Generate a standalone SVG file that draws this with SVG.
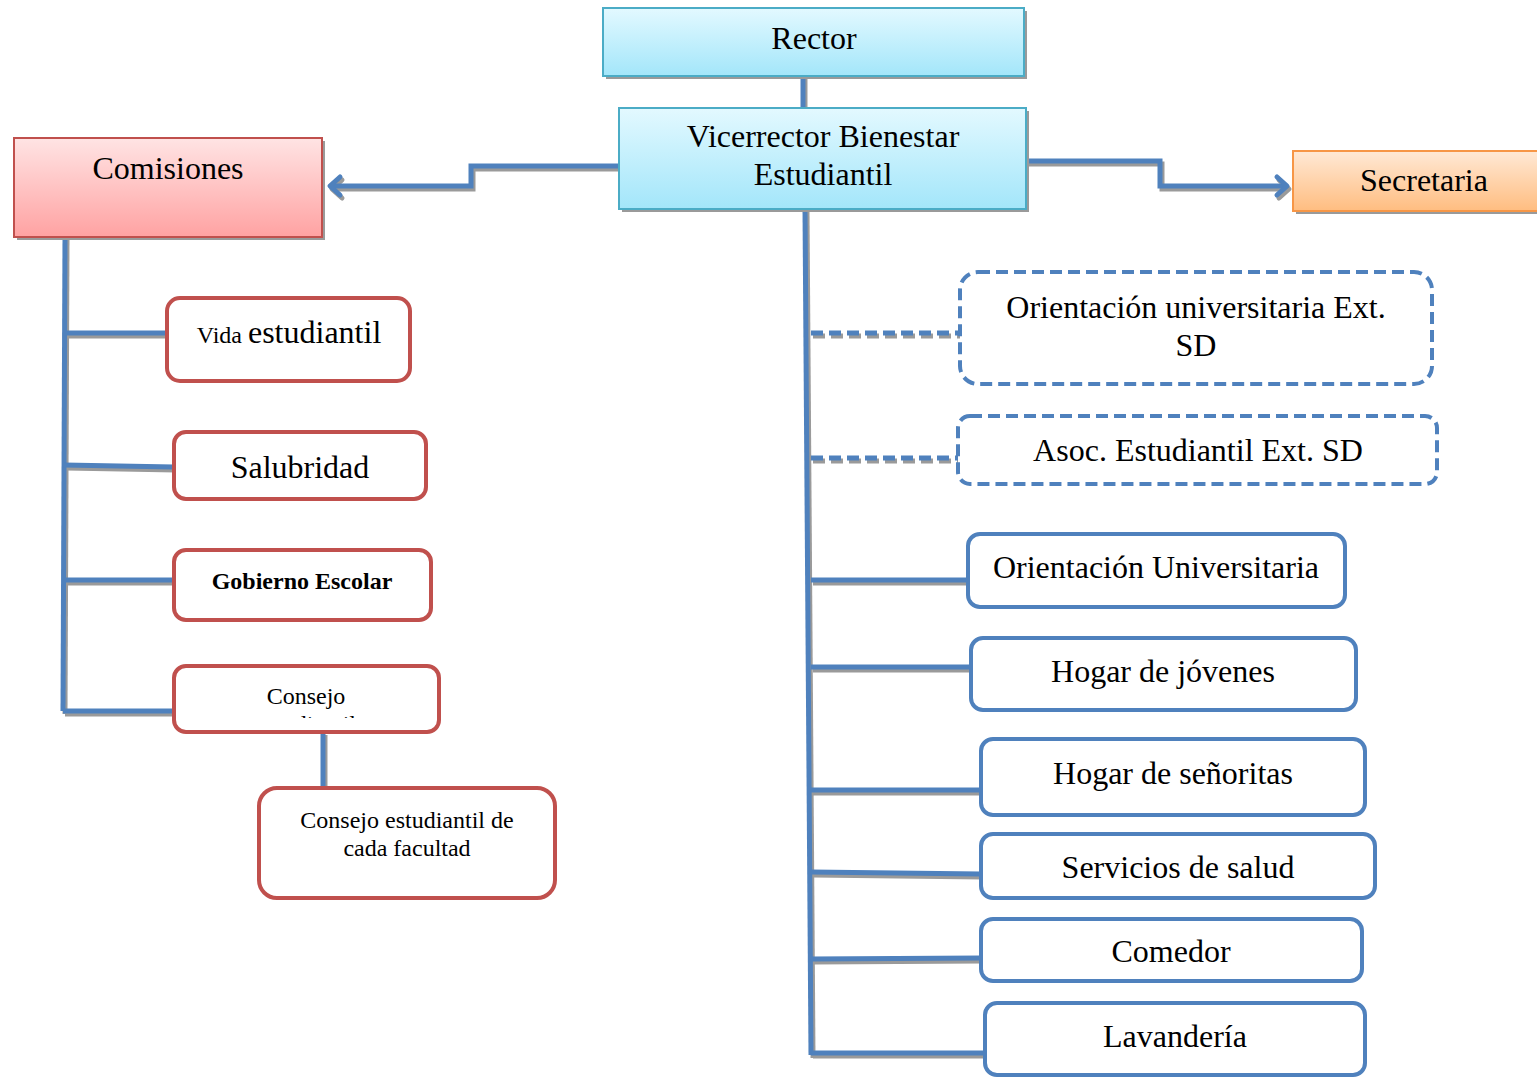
<svg xmlns="http://www.w3.org/2000/svg" xmlns:xlink="http://www.w3.org/1999/xlink" width="1537" height="1078" viewBox="0 0 1537 1078">
<style>
text{font-family:"Liberation Serif","Times New Roman",serif;fill:#000;text-anchor:middle}
.t30{font-size:32px}
.t22{font-size:24px}
.blue{fill:#fff;stroke:#4F81BD;stroke-width:4}
.dash{fill:#fff;stroke:#4F81BD;stroke-width:4;stroke-dasharray:12 6}
.red{fill:#fff;stroke:#C0504D;stroke-width:4}
.ln{fill:none;stroke:#4F81BD;stroke-width:5}
.lnd{fill:none;stroke:#4F81BD;stroke-width:5;stroke-dasharray:12 6}
.sh .ln,.sh .lnd{stroke:#9a9a9a}
</style>
<defs>
<linearGradient id="gc" x1="0" y1="0" x2="0" y2="1"><stop offset="0" stop-color="#E3F9FF"/><stop offset="1" stop-color="#A3E6FA"/></linearGradient>
<linearGradient id="gr" x1="0" y1="0" x2="0" y2="1"><stop offset="0" stop-color="#FFE4E4"/><stop offset="1" stop-color="#FFA2A2"/></linearGradient>
<linearGradient id="go" x1="0" y1="0" x2="0" y2="1"><stop offset="0" stop-color="#FFE9D6"/><stop offset="1" stop-color="#FFBD80"/></linearGradient>
<marker id="arr" markerWidth="12" markerHeight="12" refX="8" refY="6" orient="auto" markerUnits="userSpaceOnUse" overflow="visible">
<polyline points="-2,-3 8,6 -2,15" fill="none" stroke="#4F81BD" stroke-width="5" stroke-linecap="round" stroke-linejoin="round"/>
</marker>
<marker id="arrs" markerWidth="12" markerHeight="12" refX="8" refY="6" orient="auto" markerUnits="userSpaceOnUse" overflow="visible">
<polyline points="-2,-3 8,6 -2,15" fill="none" stroke="#9a9a9a" stroke-width="5" stroke-linecap="round" stroke-linejoin="round"/>
</marker>
<clipPath id="cc"><rect x="174" y="666" width="265" height="52"/></clipPath>
</defs>

<g id="connectors">
<g class="sh" transform="translate(2,3)">
<path class="ln" d="M803,76 V108"/>
<path class="ln" d="M619,166 H471 V186 H330" marker-end="url(#arrs)"/>
<path class="ln" d="M1026,161 H1160 V186 H1287" marker-end="url(#arrs)"/>
<path class="ln" d="M65,237 L63,711"/>
<path class="ln" d="M65,333 H167"/>
<path class="ln" d="M64,465 L174,467"/>
<path class="ln" d="M64,580 H174"/>
<path class="ln" d="M63,711 H174"/>
<path class="ln" d="M323,732 V788"/>
<path class="ln" d="M805,209 L811,1055"/>
<path class="lnd" d="M811,333 H960"/>
<path class="lnd" d="M811,458 H958"/>
<path class="ln" d="M811,580 H968"/>
<path class="ln" d="M811,667 H971"/>
<path class="ln" d="M811,790 H981"/>
<path class="ln" d="M811,872 L981,874"/>
<path class="ln" d="M811,959 L981,958"/>
<path class="ln" d="M811,1053 H985"/>
</g>
<g>
<path class="ln" d="M803,76 V108"/>
<path class="ln" d="M619,166 H471 V186 H330" marker-end="url(#arr)"/>
<path class="ln" d="M1026,161 H1160 V186 H1287" marker-end="url(#arr)"/>
<path class="ln" d="M65,237 L63,711"/>
<path class="ln" d="M65,333 H167"/>
<path class="ln" d="M64,465 L174,467"/>
<path class="ln" d="M64,580 H174"/>
<path class="ln" d="M63,711 H174"/>
<path class="ln" d="M323,732 V788"/>
<path class="ln" d="M805,209 L811,1055"/>
<path class="lnd" d="M811,333 H960"/>
<path class="lnd" d="M811,458 H958"/>
<path class="ln" d="M811,580 H968"/>
<path class="ln" d="M811,667 H971"/>
<path class="ln" d="M811,790 H981"/>
<path class="ln" d="M811,872 L981,874"/>
<path class="ln" d="M811,959 L981,958"/>
<path class="ln" d="M811,1053 H985"/>
</g>
</g>

<g id="rector">
<rect x="606" y="11" width="421" height="68" fill="#9a9a9a"/>
<rect x="603" y="8" width="421" height="68" fill="url(#gc)" stroke="#4BACC6" stroke-width="2"/>
<text class="t30" x="814" y="49">Rector</text>
</g>
<g id="vicerrector">
<rect x="622" y="111" width="407" height="101" fill="#9a9a9a"/>
<rect x="619" y="108" width="407" height="101" fill="url(#gc)" stroke="#4BACC6" stroke-width="2"/>
<text class="t30" x="823" y="147">Vicerrector Bienestar</text>
<text class="t30" x="823" y="185">Estudiantil</text>
</g>
<g id="comisiones">
<rect x="17" y="141" width="308" height="99" fill="#9a9a9a"/>
<rect x="14" y="138" width="308" height="99" fill="url(#gr)" stroke="#C0504D" stroke-width="2"/>
<text class="t30" x="168" y="179">Comisiones</text>
</g>
<g id="secretaria">
<rect x="1296" y="154" width="250" height="60" fill="#9a9a9a"/>
<rect x="1293" y="151" width="250" height="60" fill="url(#go)" stroke="#F79646" stroke-width="2"/>
<text class="t30" x="1424" y="191">Secretaria</text>
</g>

<g id="vida">
<rect class="red" x="167" y="298" width="243" height="83" rx="13"/>
<text x="289" y="343"><tspan font-size="24px">Vida </tspan><tspan font-size="32px">estudiantil</tspan></text>
</g>
<g id="salubridad">
<rect class="red" x="174" y="432" width="252" height="67" rx="12"/>
<text class="t30" x="300" y="478">Salubridad</text>
</g>
<g id="gobierno">
<rect class="red" x="174" y="550" width="257" height="70" rx="12"/>
<text x="302" y="589" font-size="24px" font-weight="bold">Gobierno Escolar</text>
</g>
<g id="consejo">
<rect class="red" x="174" y="666" width="265" height="66" rx="12"/>
<g clip-path="url(#cc)">
<text class="t22" x="306" y="704">Consejo</text>
<text class="t22" x="306" y="732">estudiantil</text>
</g>
</g>
<g id="facultad">
<rect class="red" x="259" y="788" width="296" height="110" rx="18"/>
<text class="t22" x="407" y="828">Consejo estudiantil de</text>
<text class="t22" x="407" y="856">cada facultad</text>
</g>

<g id="orient-ext">
<rect class="dash" x="960" y="272" width="472" height="112" rx="18"/>
<text class="t30" x="1196" y="318">Orientación universitaria Ext.</text>
<text class="t30" x="1196" y="356">SD</text>
</g>
<g id="asoc">
<rect class="dash" x="958" y="416" width="479" height="68" rx="12"/>
<text class="t30" x="1198" y="461">Asoc. Estudiantil Ext. SD</text>
</g>
<g id="orient">
<rect class="blue" x="968" y="534" width="377" height="73" rx="12"/>
<text class="t30" x="1156" y="578">Orientación Universitaria</text>
</g>
<g id="hogar-j">
<rect class="blue" x="971" y="638" width="385" height="72" rx="12"/>
<text class="t30" x="1163" y="682">Hogar de jóvenes</text>
</g>
<g id="hogar-s">
<rect class="blue" x="981" y="739" width="384" height="76" rx="12"/>
<text class="t30" x="1173" y="784">Hogar de señoritas</text>
</g>
<g id="salud">
<rect class="blue" x="981" y="834" width="394" height="64" rx="12"/>
<text class="t30" x="1178" y="878">Servicios de salud</text>
</g>
<g id="comedor">
<rect class="blue" x="981" y="919" width="381" height="62" rx="12"/>
<text class="t30" x="1171" y="962">Comedor</text>
</g>
<g id="lavanderia">
<rect class="blue" x="985" y="1003" width="380" height="72" rx="12"/>
<text class="t30" x="1175" y="1047">Lavandería</text>
</g>
</svg>
